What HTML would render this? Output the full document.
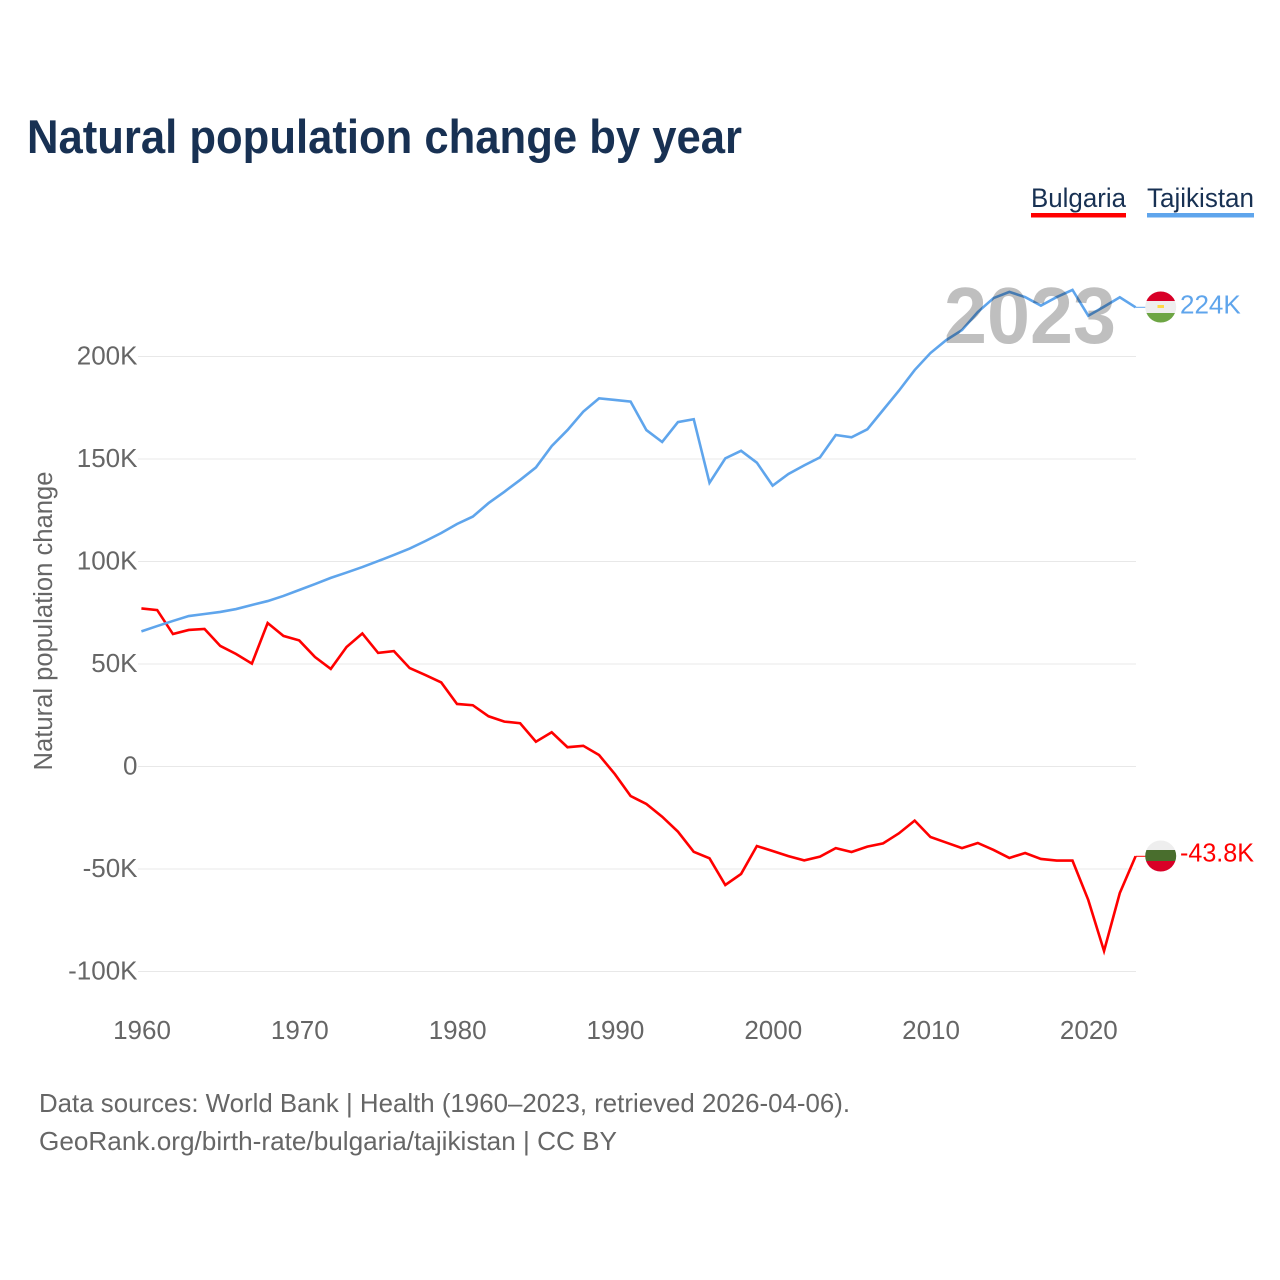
<!DOCTYPE html>
<html lang="en">
<head>
<meta charset="utf-8">
<title>Natural population change by year</title>
<style>
html,body{margin:0;padding:0;background:#fff}
svg{display:block}
text{font-family:"Liberation Sans",sans-serif}
</style>
</head>
<body>
<svg id="chart" xmlns="http://www.w3.org/2000/svg" width="1280" height="1280" viewBox="0 0 1280 1280">
  <defs>
    <clipPath id="clip-tj"><circle id="clip-tj-circle" cx="1160.7" cy="307" r="15.5"></circle></clipPath>
    <clipPath id="clip-bg"><circle id="clip-bg-circle" cx="1160.7" cy="856" r="15.5"></circle></clipPath>
  </defs>
  <rect width="1280" height="1280" fill="#fff"></rect>
  <text x="27" y="153" font-size="47" font-weight="700" fill="#183153" textLength="715" lengthAdjust="spacingAndGlyphs">Natural population change by year</text>

  <g>
    <g>
      <text x="1031" y="207" font-size="27" fill="#183153" textLength="95" lengthAdjust="spacingAndGlyphs">Bulgaria</text>
      <rect x="1031" y="213" width="95" height="4.5" fill="#ff0000"></rect>
    </g>
    <g>
      <text x="1147" y="207" font-size="27" fill="#183153" textLength="107" lengthAdjust="spacingAndGlyphs">Tajikistan</text>
      <rect x="1147" y="213" width="107" height="4.5" fill="#5fa5ec"></rect>
    </g>
  </g>

  <g id="grid"></g>
  <g id="y-axis"></g>
  <g id="x-axis"></g>
  <text transform="translate(52 621) rotate(-90)" text-anchor="middle" font-size="25.5" fill="#666" textLength="299" lengthAdjust="spacingAndGlyphs">Natural population change</text>
  <g id="series"></g>
  <text x="944" y="343" font-size="80" font-weight="700" fill="#000" fill-opacity="0.25" textLength="172" lengthAdjust="spacingAndGlyphs">2023</text>

  <g id="flag-tj" clip-path="url(#clip-tj)">
    <rect id="tj-white" x="1145" y="291" width="32" height="32" fill="#eeeeee"></rect>
    <rect id="tj-red" x="1145" y="291" width="32" height="10" fill="#d80027"></rect>
    <rect id="tj-green" x="1145" y="313" width="32" height="10" fill="#6da544"></rect>
    <rect id="tj-crown" x="1157.5" y="305" width="6.5" height="3" fill="#ffda44"></rect>
  </g>
  <g id="flag-bg" clip-path="url(#clip-bg)">
    <rect id="bg-white" x="1145" y="840" width="32" height="11" fill="#eeeeee"></rect>
    <rect id="bg-green" x="1145" y="850" width="32" height="11" fill="#496e2d"></rect>
    <rect id="bg-red" x="1145" y="861" width="32" height="11" fill="#d80027"></rect>
  </g>
  <g id="end-labels"></g>

  <text x="39" y="1112" font-size="26" fill="#666" textLength="811" lengthAdjust="spacingAndGlyphs">Data sources: World Bank | Health (1960–2023, retrieved 2026-04-06).</text>
  <text x="39" y="1150" font-size="26" fill="#666" textLength="578" lengthAdjust="spacingAndGlyphs">GeoRank.org/birth-rate/bulgaria/tajikistan | CC BY</text>
</svg>
<script>
const years = [1960,1961,1962,1963,1964,1965,1966,1967,1968,1969,1970,1971,1972,1973,1974,1975,1976,1977,1978,1979,1980,1981,1982,1983,1984,1985,1986,1987,1988,1989,1990,1991,1992,1993,1994,1995,1996,1997,1998,1999,2000,2001,2002,2003,2004,2005,2006,2007,2008,2009,2010,2011,2012,2013,2014,2015,2016,2017,2018,2019,2020,2021,2022,2023];
const bulgaria = [77.1,76.3,64.6,66.6,67.1,58.8,54.9,50.2,70.0,63.7,61.5,53.4,47.6,58.3,64.9,55.4,56.3,48.0,44.6,41.0,30.5,29.9,24.5,21.9,21.1,12.1,16.7,9.4,10.1,5.6,-3.7,-14.4,-18.3,-24.5,-31.8,-41.6,-44.8,-57.8,-52.4,-38.8,-41.2,-43.7,-45.8,-44.0,-39.8,-41.7,-39.1,-37.5,-32.6,-26.4,-34.4,-37.1,-39.8,-37.3,-40.7,-44.6,-42.2,-45.1,-45.9,-45.9,-65.1,-90.0,-61.7,-43.8];
const tajikistan = [65.9,68.5,71.0,73.4,74.4,75.4,76.8,78.8,80.7,83.2,86.1,89.0,92.0,94.6,97.3,100.2,103.2,106.3,110.0,113.9,118.3,121.9,128.5,134.0,139.8,145.9,156.3,164.1,173.1,179.6,178.8,178.0,164.1,158.3,168.0,169.4,138.4,150.3,154.0,148.2,137.0,142.7,146.9,150.8,161.7,160.6,164.5,173.9,183.3,193.4,201.7,208.0,212.9,221.7,228.5,231.5,229.0,224.8,229.0,232.5,219.9,224.3,228.9,224.0];
const yTicks = [200,150,100,50,0,-50,-100];
const xTicks = [1960,1970,1980,1990,2000,2010,2020];

const NS = 'http://www.w3.org/2000/svg';
const xLeft = 141.4, xRight = 1135.6, gridLeft = 138, gridRight = 1136;
function xScale(year) {
  const first = years[0], last = years[years.length - 1];
  return xLeft + (year - first) / (last - first) * (xRight - xLeft);
}
function yScale(k) {
  return 766.5 - k * 2.05;
}
function tickLabel(k) {
  return k === 0 ? '0' : k + 'K';
}
function make(tag, attrs, parent, content) {
  const el = document.createElementNS(NS, tag);
  for (const key in attrs) el.setAttribute(key, attrs[key]);
  if (content !== undefined) el.textContent = content;
  parent.appendChild(el);
  return el;
}

const gridGroup = document.getElementById('grid');
const yGroup = document.getElementById('y-axis');
const xGroup = document.getElementById('x-axis');
const seriesGroup = document.getElementById('series');
const labelGroup = document.getElementById('end-labels');

yTicks.forEach(function (tick) {
  const y = yScale(tick);
  const line = make('line', {x1: gridLeft, x2: gridRight, y1: y, y2: y, stroke: '#e8e8e8', 'stroke-width': 1}, gridGroup);
  
  
  const label = make('text', {x: 137.5, y: y + 8.2, 'text-anchor': 'end', 'font-size': 26, fill: '#666'}, yGroup, tickLabel(tick));
  
  
});

xTicks.forEach(function (tick) {
  const label = make('text', {x: xScale(tick) + 0.6, y: 1039, 'text-anchor': 'middle', 'font-size': 26, fill: '#666'}, xGroup, String(tick));
  
  
});

function pathFor(values) {
  return values.map(function (v, i) {
    return (i ? 'L' : 'M') + xScale(years[i]).toFixed(2) + ' ' + yScale(v).toFixed(2);
  }).join(' ');
}

const bulgariaLine = make('path', {d: pathFor(bulgaria), fill: 'none', stroke: '#ff0000', 'stroke-width': 2.6, 'stroke-linejoin': 'miter'}, seriesGroup);


const tajikistanLine = make('path', {d: pathFor(tajikistan), fill: 'none', stroke: '#5fa5ec', 'stroke-width': 2.6, 'stroke-linejoin': 'miter'}, seriesGroup);



const lastBg = bulgaria[bulgaria.length - 1];
const lastTj = tajikistan[tajikistan.length - 1];

const connectorBg = make('line', {x1: xRight, x2: 1146, y1: yScale(lastBg), y2: yScale(lastBg), stroke: '#ff0000', 'stroke-width': 1}, seriesGroup);


const connectorTj = make('line', {x1: xRight, x2: 1146, y1: yScale(lastTj), y2: yScale(lastTj), stroke: '#5fa5ec', 'stroke-width': 1}, seriesGroup);



const endBg = make('text', {x: 1180, y: yScale(lastBg) + 5.2, 'font-size': 26, fill: '#ff0000', textLength: 74, lengthAdjust: 'spacingAndGlyphs'}, labelGroup, lastBg + 'K');


const endTj = make('text', {x: 1180, y: yScale(lastTj) + 6.2, 'font-size': 26, fill: '#5fa5ec'}, labelGroup, Math.round(lastTj) + 'K');


</script>
</body>
</html>
